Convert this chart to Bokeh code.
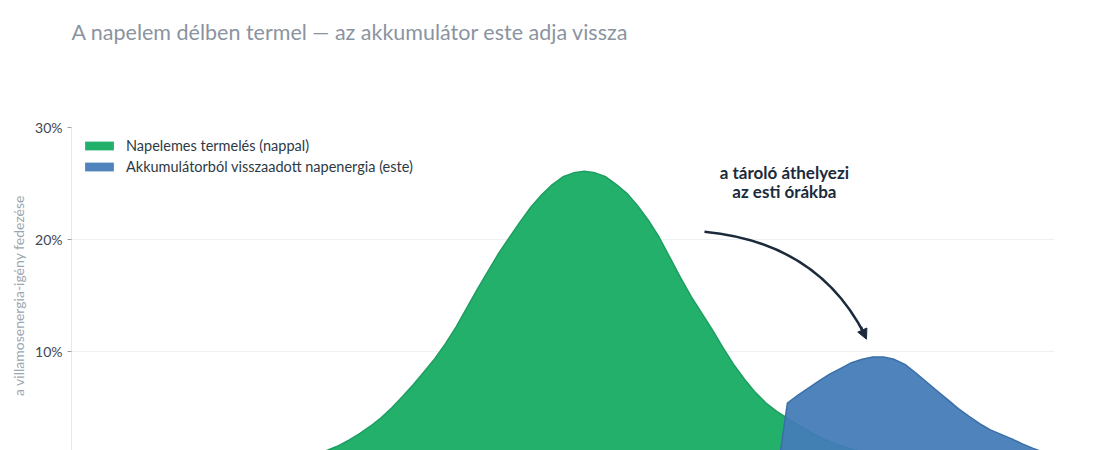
from bokeh.plotting import figure
from bokeh.models import (Range1d, FixedTicker, PrintfTickFormatter, Title, Arrow,
                          NormalHead, Legend)
from bokeh.core.properties import value
from bokeh.embed import file_html
from bokeh.resources import INLINE

# ---- data ----
solar_hours = [4.5, 4.75, 5.0, 5.25, 5.5, 5.75, 6.0, 6.25, 6.5, 6.75, 7.0, 7.25, 7.5, 7.75,
               8.0, 8.25, 8.5, 8.75, 9.0, 9.25, 9.5, 9.75, 10.0, 10.25, 10.5, 10.75,
               11.0, 11.25, 11.5, 11.75, 12.0, 12.25, 12.5, 12.75, 13.0, 13.25, 13.5,
               13.75, 14.0, 14.25, 14.5, 14.75, 15.0, 15.25, 15.5, 15.75, 16.0, 16.25,
               16.5, 16.75, 17.0, 17.25, 17.5, 17.75, 18.0, 18.25, 18.5, 18.75, 19.0,
               19.5, 20.0]
solar_share = [0.0, 0.15, 0.3, 0.45, 0.65, 0.9, 1.2, 1.6, 2.1, 2.7, 3.35, 4.1, 5.0, 6.0,
               7.05, 8.2, 9.35, 10.7, 12.2, 13.9, 15.6, 17.2, 18.8, 20.2, 21.6, 22.9,
               24.0, 24.9, 25.6, 25.95, 26.1, 25.95, 25.6, 24.9, 24.1, 23.0, 21.7,
               20.2, 18.4, 16.6, 14.9, 13.4, 11.9, 10.3, 8.8, 7.5, 6.35, 5.4,
               4.65, 4.05, 3.45, 2.9, 2.4, 1.95, 1.6, 1.3, 1.05, 0.8, 0.6,
               0.3, 0.1]

battery_hours = [16.55, 16.75, 17.0, 17.25, 17.5, 17.75, 18.0, 18.25, 18.5, 18.75, 19.0,
                 19.25, 19.5, 19.75, 20.0, 20.25, 20.5, 20.75, 21.0, 21.25, 21.5, 21.75,
                 22.0, 22.25, 22.5, 22.75, 23.0]
battery_share = [0.0, 5.4, 6.1, 6.75, 7.4, 8.0, 8.5, 9.0, 9.3, 9.5, 9.5,
                 9.3, 8.85, 8.1, 7.3, 6.5, 5.7, 4.9, 4.2, 3.55, 3.0, 2.6,
                 2.2, 1.75, 1.35, 1.0, 0.75]

y_ticks = [10, 20, 30]

solar_label = "Napelemes termelés (nappal)"
battery_label = "Akkumulátorból visszaadott napenergia (este)"
title_text = "A napelem délben termel — az akkumulátor este adja vissza"
y_axis_label = "a villamosenergia-igény fedezése"
note_lines = ["a tároló áthelyezi", "az esti órákba"]

FONT = "Lato"
GREEN = "#22b06b"
GREEN_EDGE = "#1e9e60"
BLUE = "#447bb8"
BLUE_EDGE = "#3a6fa9"
NAVY = "#1c2b3b"

p = figure(width=1076, height=493, output_backend="svg", toolbar_location=None,
           x_range=Range1d(0, 23), y_range=Range1d(0, 30),
           min_border_left=71, min_border_right=22, min_border_top=0, min_border_bottom=30)
p.outline_line_color = None
p.background_fill_color = "white"
p.border_fill_color = "white"
p.xaxis.visible = False

# spacer between title and frame (closest to the frame), then the real title above it
p.add_layout(Title(text=" ", text_font_size="1px", standoff=64), "above")
p.add_layout(Title(text=title_text, text_font=FONT, text_font_size="21.5px",
                   text_font_style="normal", text_color="#8a94a0", align="left",
                   standoff=32), "above")

# areas
g = p.varea(x=solar_hours, y1=0, y2=solar_share, fill_color=GREEN, fill_alpha=1.0)
p.line(solar_hours, solar_share, line_color=GREEN_EDGE, line_width=1.5)
b = p.varea(x=battery_hours, y1=0, y2=battery_share, fill_color=BLUE, fill_alpha=0.94)
p.line(battery_hours, battery_share, line_color=BLUE_EDGE, line_width=1.5)

legend = Legend(items=[(solar_label, [g]), (battery_label, [b])], location="top_left")
legend.label_text_font = FONT
legend.label_text_font_size = "14.5px"
legend.label_text_color = "#2d3a46"
legend.glyph_width = 36
legend.glyph_height = 11
legend.label_height = 16
legend.label_standoff = 9
legend.spacing = 4
legend.padding = 8
legend.margin = 10
legend.border_line_color = None
legend.background_fill_alpha = 0
p.add_layout(legend)

# y axis
p.yaxis.ticker = FixedTicker(ticks=y_ticks)
p.yaxis.formatter = PrintfTickFormatter(format="%d%%")
p.yaxis.major_label_text_font = FONT
p.yaxis.major_label_text_font_size = "14px"
p.yaxis.major_label_text_color = "#3c4652"
p.yaxis.axis_line_color = "#e4e9ef"
p.yaxis.major_tick_line_color = "#9aa3ad"
p.yaxis.major_tick_out = 4
p.yaxis.major_tick_in = 0
p.yaxis.minor_tick_line_color = None
p.yaxis.axis_label = y_axis_label
p.yaxis.axis_label_text_font = FONT
p.yaxis.axis_label_text_font_size = "14px"
p.yaxis.axis_label_text_font_style = "normal"
p.yaxis.axis_label_text_color = "#9aa6b2"
p.yaxis.axis_label_standoff = 5

p.xgrid.grid_line_color = None
p.ygrid.grid_line_color = "#eef1f4"
p.ygrid.ticker = FixedTicker(ticks=y_ticks)

# annotation text and curved arrow
p.text(x=[16.68, 16.68], y=[25.97, 24.28], text=note_lines, text_align="center",
       text_baseline="middle", text_font=value(FONT), text_font_size="17px",
       text_font_style="bold", text_color=NAVY)
p.quadratic(x0=[14.81], y0=[20.7], x1=[18.58], y1=[11.35], cx=[17.48], cy=[19.72],
            line_color=NAVY, line_width=2.5)
p.add_layout(Arrow(end=NormalHead(size=10, fill_color=NAVY, line_color=NAVY),
                   x_start=18.47, y_start=12.2, x_end=18.6, y_end=11.1,
                   line_color=NAVY, line_width=2.5))

open("out.html", "w").write(file_html(p, INLINE))
